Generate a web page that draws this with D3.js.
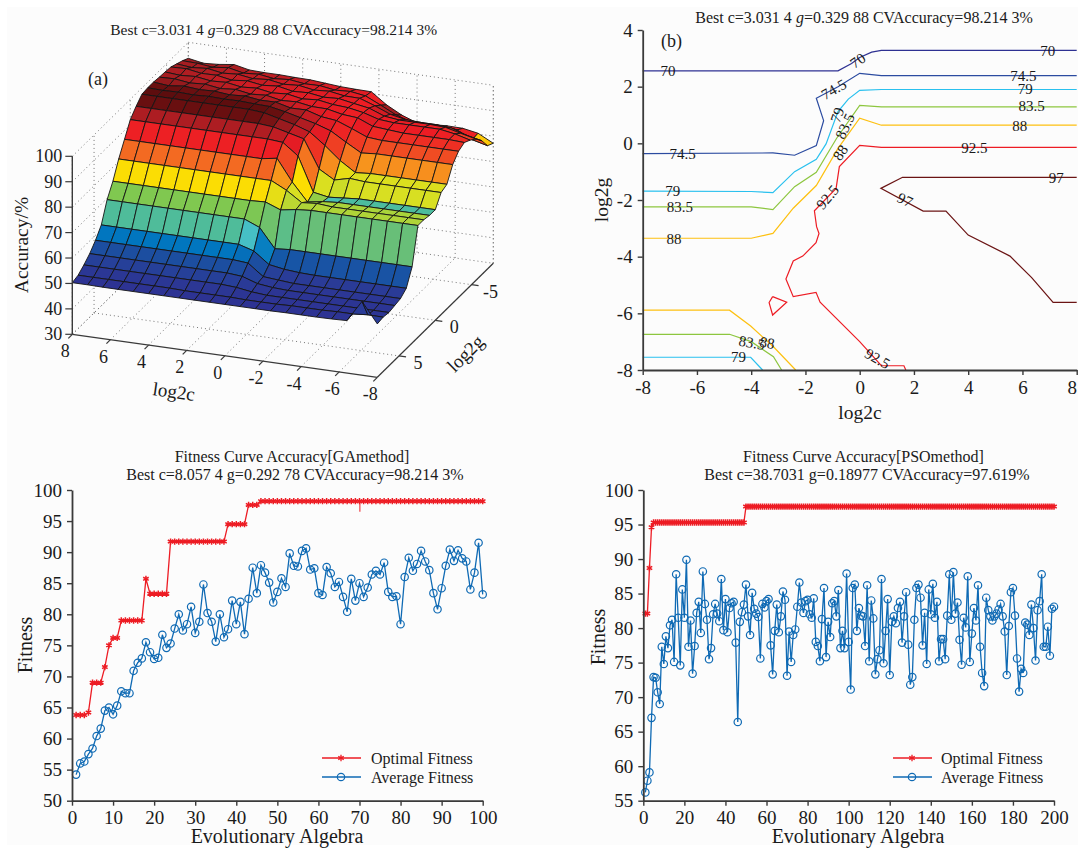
<!DOCTYPE html>
<html>
<head>
<meta charset="utf-8">
<style>
  html, body { margin: 0; padding: 0; background: #fff; }
  svg { display: block; }
  text { font-family: "Liberation Serif", "Times New Roman", serif; fill: #1a1a1a; }
</style>
<script src="https://cdn.jsdelivr.net/npm/d3@7"></script>
</head>
<body>
<svg id="fig" width="1078" height="850"></svg>
<script>
// ---- panel (a) surface: rows run g = 8 .. -8, columns run c = 8 .. -8
const surfaceC = [8,7.2,6.4,5.6,4.8,4,3.2,2.4,1.6,0.8,0,-0.8,-1.6,-2.4,-3.2,-4,-4.8,-5.6,-6.4,-7.2,-8];
const surfaceG = [8,7.2,6.4,5.6,4.8,4,3.2,2.4,1.6,0.8,0,-0.8,-1.6,-2.4,-3.2,-4,-4.8,-5.6,-6.4,-7.2,-8];
const accuracyRows = [
  [50.3,50.3,50.2,50.2,50.2,50.2,50.2,50.2,50.2,50.2,50.2,50.2,50.2,50.2,50.3,50.3,50.3,50.4,50.6,59,51],
  [51,51,51,51,51,51,51,50.8,50.8,50.8,50.8,50.6,50.6,50.6,50.8,50.8,50.8,51,51,51.5,51.4],
  [52.8,52.8,52.8,52.8,52.8,52.8,52.8,52.8,52.8,52.8,52.4,51.5,51,51,51,51,51,51,51,51,51],
  [55,55,55,55,55,55,55,55,55,55,54.5,52.5,51.8,51.5,51.5,51.5,51.5,51.5,51.5,51.5,51.5],
  [58,58,58,58,58,58,58,58,58,58,57.5,53,52.5,52,52,52,52,52,52,52,52],
  [61.8,61.8,61.8,61.8,61.8,61.8,61.8,61.8,61.8,61.8,60,55.5,54.5,54,53.8,53.8,53.8,53.8,53.8,53.8,53.8],
  [69.5,69.5,69.5,69.5,69.5,69.5,69.5,69.5,69.5,69.5,67,59.5,60,60,60,60,60,60,60,60,60],
  [74.5,74.5,74.5,74.5,74.5,74.5,74.5,74.5,74.5,74.5,74.8,72.5,73.5,74,74,74,74,74,74,74,74],
  [81,81,81,81,81,81,81,81,81,81,81,78,74,74.5,74,74,74,74,74,74,74],
  [86.5,86.5,86.5,86.5,86.5,86.5,86.5,86.5,86.5,86.5,87.5,79,72,73,73.5,73.5,73.5,73.5,73.5,73.5,73.5],
  [92,92,92,92,92,92,92,92,92,92,91.5,87,73.6,72.5,73,73.5,73.5,73.5,73.5,73.5,73.5],
  [95,95,95,95,95,95,95,95,95,94.5,93,91.5,80.5,77,78.5,78,78,78,78,78,78],
  [97.5,97.5,97.5,97.5,97.5,97.5,97.5,97.5,97,95.5,94,92,87.5,82.4,78.5,79,79,79,79,79,79],
  [97.8,97.6,97.8,97.5,97.8,97.6,97.7,97.4,97.2,96,94.5,93,91,87.4,84,84.5,84.5,84.5,84.5,84.5,84.5],
  [97.8,97.2,97.9,97.4,97.6,97,97.4,96.6,96.7,95.2,95.3,93.5,92.8,90.5,88,87.5,87.5,87.5,87.5,87.5,87.5],
  [97.5,97.7,96.9,97.3,96.4,96.9,95.9,96.3,95.1,95.4,94.4,94.3,93,92.5,90,89.5,89,89,89,89,88.7],
  [97.3,96.8,97.2,96.3,96.6,95.6,96,95,95.4,94.3,94.8,93.8,93.4,92.3,90.5,90,90,90,90,89,87.4],
  [97,97.2,96.2,96.3,95.2,95.8,94.9,95.4,94.2,94.5,93.6,93.9,92.8,91.8,89.5,88.8,88.8,88.8,88.5,87,85.6],
  [96,95.4,95.9,94.9,95.3,94.4,94.9,93.9,94.3,93.3,93.7,92.7,92.6,90.5,88,86.8,86.5,86.5,86,84,82.7],
  [95,94.8,94.1,94.8,93.5,93.9,93,93.5,92.7,92.8,91.9,92.2,91.3,88.5,85.5,83.6,83.5,83.5,83,80,78.5],
  [93.7,92.6,93,93.8,92.5,92.3,92.3,92.1,92,91.5,91,90.8,90.7,86.4,83.2,81,81.2,81.5,81.4,80.3,77.2]
];
// colour tweak per row of faces, the published colours do not follow height exactly
const toneShiftLeft = [0,0,0,0,0,0,0,0,0,0,0,0,0,-1.5,-3,-3.5,-3.5,-2.5,-1.5,0];
const toneShiftRight = [0,0,0,0,0,0,0,0,0,-8,0,-2.5,0,0,0,0,0,2,5,8];
const surfaceStops = [50,53,56.5,60,64.5,65.5,67,72,75.7,78,81.5,84,87,89.5,91.5,94,96,98];
const surfaceColors = ["#2e3192","#2a3b97","#1c4ea0","#0077c0","#45bfc8","#4cbc9e","#68bf78","#80c850","#d7df23","#ffdd00","#f7941d","#f26522","#ef4023","#ed1c24","#de1c24","#a11d21","#6b0f10","#5a0d0d"];
const surfaceCTicks = [8,6,4,2,0,-2,-4,-6,-8];
const surfaceGTicks = [5,0,-5];
const surfaceZTicks = [30,40,50,60,70,80,90,100];

// ---- panel (b) contours, [c, g] vertices
const contourLevels = [
  {level: 70, color: "#2e3192", pts: [[-8,2.56],[-0.8,2.56],[-0.3,2.82],[0,3.03],[0.44,3.22],[0.8,3.28],[8,3.28]]},
  {level: 74.5, color: "#2b4ba0", pts: [[-8,-0.36],[-3.2,-0.34],[-2.4,-0.42],[-1.6,-0.08],[-1.33,0.8],[-1.6,1.59],[-0.8,2],[0,2.47],[0.8,2.39],[8,2.39]]},
  {level: 79, color: "#29c0ee", pts: [[-8,-1.69],[-4,-1.7],[-3.2,-1.74],[-2.4,-1],[-1.6,-0.56],[-1.24,-0.02],[-0.8,1.12],[-0.42,1.56],[0,1.87],[0.8,1.9],[8,1.9]]},
  {level: 83.5, color: "#8dc63f", pts: [[-8,-2.24],[-4,-2.24],[-3.2,-2.34],[-2.4,-1.53],[-1.6,-1.02],[-0.85,0.18],[0,1.34],[0.8,1.29],[8,1.29]]},
  {level: 88, color: "#fdc010", pts: [[-8,-3.35],[-4,-3.35],[-3.2,-3.18],[-2.45,-2.29],[-1.6,-1.49],[-0.8,-0.18],[0,0.89],[0.8,0.64],[8,0.64]]},
  {level: 92.5, color: "#ed1c24", pts: [[8,-0.14],[0.8,-0.14],[0,-0.07],[-0.75,-0.82],[-0.87,-1.59],[-1.67,-2.38],[-1.59,-2.94],[-1.5,-3.18],[-1.61,-3.51],[-2.1,-3.98],[-2.45,-4.15],[-2.72,-4.79],[-2.45,-5.41],[-1.61,-5.26],[-1.46,-5.61],[0,-7],[0.8,-7.85],[1.63,-7.85],[1.7,-8]]},
  {level: 92.5, color: "#ed1c24", pts: [[-3.21,-5.41],[-2.69,-5.61],[-3.21,-6.06],[-3.34,-5.62],[-3.21,-5.41]]},
  {level: 97, color: "#6b1414", pts: [[8,-1.2],[1.58,-1.2],[0.78,-1.59],[2.34,-2.39],[3.18,-2.39],[4,-3.24],[5.54,-3.98],[6.34,-4.74],[7.13,-5.61],[8,-5.61]]},
  {level: 88, color: "#fdc010", pts: [[-8,-5.89],[-4.8,-5.89],[-4.02,-6.45],[-3.18,-7.18],[-2.36,-8]]},
  {level: 83.5, color: "#8dc63f", pts: [[-8,-6.74],[-4.8,-6.74],[-4,-7],[-3.18,-7.53],[-2.88,-8]]},
  {level: 79, color: "#29c0ee", pts: [[-8,-7.55],[-4.02,-7.55],[-3.58,-8]]}
];
const contourLabelText = ["70","70","70","74.5","74.5","74.5","79","79","79","83.5","83.5","83.5","88","88","88","92.5","92.5","97","97","83.5","88","79","92.5"];
const contourLabelC = [-7.07,-0.07,6.93,-6.53,-0.95,6.03,-6.89,-0.82,6.1,-6.63,-0.54,6.34,-6.85,-0.71,5.9,4.23,-1.18,7.25,1.67,-3.98,-3.41,-4.47,0.65];
const contourLabelG = [2.56,2.92,3.26,-0.38,1.9,2.38,-1.69,1,1.9,-2.26,0.6,1.3,-3.38,-0.33,0.62,-0.15,-1.9,-1.21,-2,-7.04,-7.04,-7.55,-7.6];
const contourLabelTilt = [0,-35,0,0,-30,0,0,-70,0,0,-65,0,0,-55,0,0,-50,0,25,10,10,0,30];
const contourXTicks = [-8,-6,-4,-2,0,2,4,6,8];
const contourYTicks = [4,2,0,-2,-4,-6,-8];

// ---- panel (c) GA fitness
const gaGen = d3.range(1, 101);
const gaBest = [63.8,63.8,63.8,64.2,69,69,69,71.5,75,76.2,76.2,79,79,79,79,79,79,85.7,83.3,83.3,83.3,83.3,83.3,91.7,91.7,91.7,91.7,91.7,91.7,91.7,91.7,91.7,91.7,91.7,91.7,91.7,91.7,94.5,94.5,94.5,94.5,94.5,97.6,97.6,97.6,98.2,98.2,98.2,98.2,98.2,98.2,98.2,98.2,98.2,98.2,98.2,98.2,98.2,98.2,98.2,98.2,98.2,98.2,98.2,98.2,98.2,98.2,98.2,98.2,98.2,98.2,98.2,98.2,98.2,98.2,98.2,98.2,98.2,98.2,98.2,98.2,98.2,98.2,98.2,98.2,98.2,98.2,98.2,98.2,98.2,98.2,98.2,98.2,98.2,98.2,98.2,98.2,98.2,98.2,98.2];
const gaAvg = [54.2,56,56.3,57.5,58.4,60.4,61.6,64.5,65,63.9,65.3,67.6,67.3,67.3,70.9,72.2,72.9,75.5,73.9,72.8,73,76.7,74.6,75.3,77.7,80,77.4,78.4,81.2,77,78.8,84.8,80.2,78.8,75.6,80,76.3,77.6,82.2,78.4,82,76.8,82.5,87.5,83.4,87.9,86.7,85.1,81.9,83.6,85.8,84.4,89.8,87.8,87.7,90.2,90.6,87.2,87.4,83.4,83.1,87.6,86.6,84.4,85.2,82.8,80.4,85.7,82.2,85,82.8,84.3,86.4,87,86.4,88.3,83.6,82.8,82.9,78.4,86,89.1,87,88.1,90.2,88.5,87.1,83.4,80.8,84.2,87.8,90.4,88.6,90.3,89,88.5,84,86.7,91.5,83.2];
// single short drop in the best curve near generation 70
const gaDipGen = [70.1];
const gaDipLow = [96.5];
const gaXTicks = [0,10,20,30,40,50,60,70,80,90,100];
const gaYTicks = [50,55,60,65,70,75,80,85,90,95,100];

// ---- panel (d) PSO fitness
const psoGen = d3.range(1, 201);
const psoBest = [82.1,82.1,88.7,94.6].concat(
  d3.range(5, 50).map(() => 95.3),
  d3.range(50, 201).map(() => 97.6));
const psoAvg = [56.2,57.9,59.1,67,72.9,72.8,70.7,69,77.3,74.8,78.8,77.1,80.4,81.2,75.1,87.8,81.5,74.6,85.6,81.5,89.9,77.3,81.1,73.4,77.4,82.2,83.8,79.3,88.2,83.5,81.2,75.5,77.1,82,83.5,82.1,81,87.1,79.7,84.2,79.4,82.9,83.6,83.8,77.9,66.4,80.9,82.3,83.4,86.3,81.7,79,85.1,82.8,82.1,81.6,75.6,83.5,83,83.9,84.2,77.5,73.3,79.6,83.4,79.4,81.7,85.3,84.1,73.1,79.5,75.1,79,79.8,83.1,86.6,83.7,82.2,83.9,84.1,82,81.5,84.3,78,77.4,75.2,81.3,85.8,75.8,80.9,78.7,83.6,83.9,81.7,85.5,77.1,79.6,77.1,87.9,78,71.1,85.8,86.3,79.6,82.9,81.8,81.7,77.4,86.2,75.2,84,81.4,73.3,75.5,76.8,87.1,74.9,79.6,84.2,73.2,80.9,81.7,80.7,82.9,83.8,77.9,81.7,85.2,77.6,71.8,72.9,81.2,85.8,86.3,84.4,77.5,82.2,74.8,85.6,82,86.4,81.5,83.8,75.2,78.4,78.4,75.5,81.8,87.8,81.2,88.1,82.1,83.7,78.3,74.7,81.5,80.1,87.5,75.1,79.2,82.9,81.1,86.2,77.3,73.5,71.6,84.4,82.6,81.7,81.1,81.7,82.1,82.7,83.5,81.7,79.5,73.2,80.3,85.2,85.8,81.8,75.6,70.8,74.1,73.5,80.8,80.5,79,83.4,80,75.3,82.6,83.9,87.8,77.3,77.3,80.2,76,82.8,83.1];
const psoXTicks = [0,20,40,60,80,100,120,140,160,180,200];
const psoYTicks = [55,60,65,70,75,80,85,90,95,100];

const RED = "#ed1c24", BLUE = "#0f6ab4", AXIS = "#3a3a3a";
const plainTick = d => String(d); // hyphen minus, like the reference

const svg = d3.select("#fig");
svg.append("rect").attr("x", 7).attr("y", 7).attr("width", 1071).attr("height", 838).attr("fill", "#fcfcfc");

function title(x, y, parts, size) {
  const t = svg.append("text").attr("x", x).attr("y", y).attr("text-anchor", "middle").attr("font-size", size);
  parts.forEach(function (p) {
    t.append("tspan").text(p[0]).attr("font-style", p[1] ? "italic" : "normal");
  });
  return t;
}
function label(x, y, txt, size, rot) {
  return svg.append("text")
    .attr("transform", "translate(" + x + "," + y + ") rotate(" + (rot || 0) + ")")
    .attr("text-anchor", "middle")
    .attr("font-size", size)
    .text(txt);
}
function styleAxis(g, size) {
  g.selectAll("path").attr("stroke", AXIS).attr("stroke-width", 1.8);
  g.selectAll("line").attr("stroke", AXIS).attr("stroke-width", 1.4);
  g.selectAll("text").attr("font-size", size).attr("fill", "#1a1a1a")
    .attr("font-family", '"Liberation Serif", serif');
}

// ---------------- (a) 3D surface, fixed orthographic view
const cToX = d3.scaleLinear().domain([8, -8]).range([0, 305]);
const gToX = d3.scaleLinear().domain([8, -8]).range([0, 116]);
const cToY = d3.scaleLinear().domain([8, -8]).range([0, 43]);
const gToY = d3.scaleLinear().domain([8, -8]).range([0, -114]);
const zToY = d3.scaleLinear().domain([30, 100]).range([0, -178]);
function project(c, g, z) {
  return [72.3 + cToX(c) + gToX(g), 334.3 + cToY(c) + gToY(g) + zToY(z)];
}
const faceColor = d3.scaleLinear().domain(surfaceStops).range(surfaceColors).clamp(true);
const line3d = d3.line();
const a = svg.append("g");

function gridLine(p, q) {
  a.append("path").attr("d", line3d([p, q])).attr("fill", "none")
    .attr("stroke", "#666").attr("stroke-width", 0.9).attr("stroke-dasharray", "1,3");
}
// walls and floor
surfaceZTicks.forEach(function (z) {
  gridLine(project(8, 8, z), project(8, -8, z));
  gridLine(project(8, -8, z), project(-8, -8, z));
});
surfaceCTicks.forEach(function (c) {
  gridLine(project(c, 8, 30), project(c, -8, 30));
  gridLine(project(c, -8, 30), project(c, -8, 100));
});
surfaceGTicks.forEach(function (g) {
  gridLine(project(8, g, 30), project(-8, g, 30));
  gridLine(project(8, g, 30), project(8, g, 100));
});
gridLine(project(8, 8, 100), project(8, 8, 30));
gridLine(project(8, -8, 30), project(8, -8, 100));
gridLine(project(-8, -8, 30), project(-8, -8, 100));

// faces, far rows first
for (let k = surfaceG.length - 2; k >= 0; k--) {
  for (let j = 0; j < surfaceC.length - 1; j++) {
    const zs = [accuracyRows[k][j], accuracyRows[k][j + 1], accuracyRows[k + 1][j + 1], accuracyRows[k + 1][j]];
    const corners = [
      project(surfaceC[j], surfaceG[k], zs[0]),
      project(surfaceC[j + 1], surfaceG[k], zs[1]),
      project(surfaceC[j + 1], surfaceG[k + 1], zs[2]),
      project(surfaceC[j], surfaceG[k + 1], zs[3])
    ];
    // the far corner face stays yellow
    const corner = (k === 19 && j === 19);
    const shift = corner ? 0 : (j >= 13 ? toneShiftRight[k] : toneShiftLeft[k]);
    a.append("path")
      .attr("d", line3d(corners) + "Z")
      .attr("fill", faceColor(d3.mean(zs) + shift))
      .attr("stroke", "#141414")
      .attr("stroke-width", 0.9)
      .attr("stroke-linejoin", "round");
  }
}

// solid axes
function solid(p, q, w) {
  a.append("path").attr("d", line3d([p, q])).attr("fill", "none").attr("stroke", AXIS).attr("stroke-width", w);
}
solid(project(8, 8, 30), project(8, 8, 100), 1.4);
solid(project(8, 8, 30), project(-8, 8, 30), 1.2);
solid(project(-8, 8, 30), project(-8, -8, 30), 1.2);
surfaceZTicks.forEach(function (z) {
  const p = project(8, 8, z);
  solid([p[0] - 7, p[1]], p, 1.2);
  a.append("text").attr("x", p[0] - 10).attr("y", p[1] + 6).attr("text-anchor", "end").attr("font-size", 18).text(z);
});
surfaceCTicks.forEach(function (c) {
  const p = project(c, 8, 30);
  solid([p[0] - 4, p[1] + 4], p, 1.2);
  a.append("text").attr("x", p[0] - 7).attr("y", p[1] + 23).attr("text-anchor", "middle").attr("font-size", 18).text(c);
});
surfaceGTicks.forEach(function (g) {
  const p = project(-8, g, 30);
  solid(p, [p[0] + 7, p[1] + 1], 1.2);
  a.append("text").attr("x", p[0] + 19).attr("y", p[1] + 13).attr("text-anchor", "middle").attr("font-size", 18).text(g);
});
label(22, 245, "Accuracy/%", 19.5, -90).attr("dy", 6);
label(173, 398, "log2c", 19, 8);
label(470, 358, "log2g", 19, -45);
svg.append("text").attr("x", 88).attr("y", 85).attr("font-size", 18).text("(a)");
title(273.7, 35, [["Best c=3.031 4 "], ["g", true], ["=0.329 88 CVAccuracy=98.214 3%"]], 15.5);

// ---------------- (b) contour lines
const bx = d3.scaleLinear().domain([-8, 8]).range([642.7, 1076.7]);
const by = d3.scaleLinear().domain([-8, 4]).range([370, 30]);
const contourLine = d3.line().x(d => bx(d[0])).y(d => by(d[1]));
const b = svg.append("g");
contourLevels.forEach(function (c) {
  b.append("path").attr("d", contourLine(c.pts)).attr("fill", "none")
    .attr("stroke", c.color).attr("stroke-width", 1.2);
});
contourLabelText.forEach(function (t, i) {
  b.append("text")
    .attr("transform", "translate(" + bx(contourLabelC[i]) + "," + by(contourLabelG[i]) + ") rotate(" + contourLabelTilt[i] + ")")
    .attr("text-anchor", "middle").attr("dy", "0.33em").attr("font-size", 15).text(t);
});
const bAxisX = b.append("g").attr("transform", "translate(0,370)")
  .call(d3.axisBottom(bx).tickValues(contourXTicks).tickSize(5).tickPadding(6).tickSizeOuter(0).tickFormat(plainTick));
styleAxis(bAxisX, 19);
// last label sits at the page edge, nudge it inside
bAxisX.selectAll(".tick").filter(d => d === 8).select("text").attr("dx", -5);
const bAxisY = b.append("g").attr("transform", "translate(642.7,0)")
  .call(d3.axisLeft(by).tickValues(contourYTicks).tickSize(5).tickPadding(5).tickSizeOuter(0).tickFormat(plainTick));
styleAxis(bAxisY, 19);
label(860, 419, "log2c", 19.5);
label(608, 200, "log2g", 19.5, -90);
svg.append("text").attr("x", 661).attr("y", 47).attr("font-size", 18).text("(b)");
title(864, 23, [["Best c=3.031 4 "], ["g", true], ["=0.329 88 CVAccuracy=98.214 3%"]], 16);

// ---------------- (c) and (d) fitness curves
function fitnessPanel(opts) {
  const x = d3.scaleLinear().domain(opts.xDomain).range(opts.xRange);
  const y = d3.scaleLinear().domain(opts.yDomain).range([800.7, 490]);
  const g = svg.append("g");
  const path = d3.line().x(d => x(d[0])).y(d => y(d[1]));
  const bestPts = opts.gen.map((d, i) => [d, opts.best[i]]);
  const avgPts = opts.gen.map((d, i) => [d, opts.avg[i]]);
  const star = d3.symbol().type(d3.symbolAsterisk || d3.symbolCross).size(opts.starSize);

  g.append("path").attr("d", path(bestPts)).attr("fill", "none").attr("stroke", RED).attr("stroke-width", 1.3);
  g.selectAll(".star").data(bestPts).enter().append("path").attr("class", "star")
    .attr("d", star)
    .attr("transform", d => "translate(" + x(d[0]) + "," + y(d[1]) + ")")
    .attr("fill", "none").attr("stroke", RED).attr("stroke-width", 1.5);
  (opts.dipGen || []).forEach(function (d, i) {
    g.append("path").attr("d", path([[d, opts.best[Math.round(d) - 1]], [d, opts.dipLow[i]]]))
      .attr("fill", "none").attr("stroke", RED).attr("stroke-width", 1);
  });

  g.append("path").attr("d", path(avgPts)).attr("fill", "none").attr("stroke", BLUE).attr("stroke-width", 1.3);
  g.selectAll(".ring").data(avgPts).enter().append("circle").attr("class", "ring")
    .attr("cx", d => x(d[0])).attr("cy", d => y(d[1])).attr("r", 3.7)
    .attr("fill", "none").attr("stroke", BLUE).attr("stroke-width", 1.2);

  styleAxis(g.append("g").attr("transform", "translate(0,800.7)")
    .call(d3.axisBottom(x).tickValues(opts.xTicks).tickSize(5).tickPadding(5).tickSizeOuter(0).tickFormat(plainTick)), 19);
  styleAxis(g.append("g").attr("transform", "translate(" + opts.xRange[0] + ",0)")
    .call(d3.axisLeft(y).tickValues(opts.yTicks).tickSize(5).tickPadding(5).tickSizeOuter(0).tickFormat(plainTick)), 19);

  // legend
  const lx = opts.legendX;
  [["Optimal Fitness", RED, 758], ["Average Fitness", BLUE, 777]].forEach(function (row, i) {
    g.append("line").attr("x1", lx).attr("x2", lx + 39).attr("y1", row[2]).attr("y2", row[2])
      .attr("stroke", row[1]).attr("stroke-width", 1.3);
    if (i === 0) {
      g.append("path").attr("d", star).attr("transform", "translate(" + (lx + 19) + "," + row[2] + ")")
        .attr("fill", "none").attr("stroke", RED).attr("stroke-width", 1.3);
    } else {
      g.append("circle").attr("cx", lx + 19).attr("cy", row[2]).attr("r", 3.7)
        .attr("fill", "none").attr("stroke", BLUE).attr("stroke-width", 1.2);
    }
    g.append("text").attr("x", opts.legendTextX).attr("y", row[2] + 6).attr("font-size", 16).text(row[0]);
  });
}

fitnessPanel({
  gen: gaGen, best: gaBest, avg: gaAvg, dipGen: gaDipGen, dipLow: gaDipLow,
  xDomain: [0, 100], xRange: [72, 482.7], yDomain: [50, 100],
  xTicks: gaXTicks, yTicks: gaYTicks, starSize: 28, legendX: 322, legendTextX: 371
});
label(32, 645, "Fitness", 20, -90);
label(277, 843, "Evolutionary Algebra", 20);
title(292, 462, [["Fitness Curve Accuracy[GAmethod]"]], 16);
title(295, 480, [["Best c=8.057 4 g=0.292 78 CVAccuracy=98.214 3%"]], 16);

fitnessPanel({
  gen: psoGen, best: psoBest, avg: psoAvg,
  xDomain: [0, 200], xRange: [643.3, 1054], yDomain: [55, 100],
  xTicks: psoXTicks, yTicks: psoYTicks, starSize: 28, legendX: 893, legendTextX: 941
});
label(605, 637, "Fitness", 20, -90);
label(858, 843, "Evolutionary Algebra", 20);
title(863.5, 462, [["Fitness Curve Accuracy[PSOmethod]"]], 16);
title(867, 480, [["Best c=38.7031 g=0.18977 CVAccuracy=97.619%"]], 16);
</script>
</body>
</html>
